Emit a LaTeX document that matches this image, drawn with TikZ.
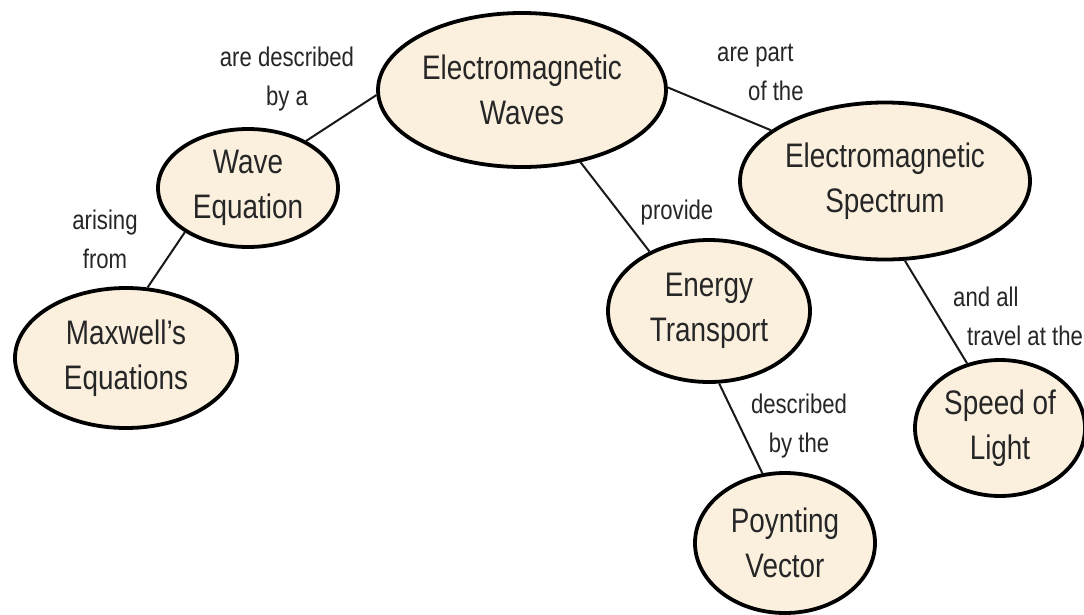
\documentclass[tikz,border=0pt]{standalone}
\usepackage{fontspec}
\setmainfont{Liberation Sans}[FakeStretch=0.82]
\usetikzlibrary{shapes.geometric}
\definecolor{conceptfill}{RGB}{251,240,222}
\colorlet{inkgray}{black!85}

\begin{document}
\begin{tikzpicture}[x=1pt,y=-1pt,
    concept/.style={ellipse,draw=black,line width=3.8pt,fill=conceptfill,inner sep=0pt,
      align=center,text=inkgray,font=\fontsize{34}{45}\selectfont},
    linklabel/.style={align=center,text=inkgray,inner sep=0pt,font=\fontsize{27}{39}\selectfont},
    link/.style={line width=2pt,black!90}]
  \useasboundingbox[fill=white] (0,0) rectangle (1084,614);

  \node[concept,minimum width=288,minimum height=154] (emw) at (522,90) {Electromagnetic\\Waves};
  \node[concept,minimum width=180,minimum height=118] (waveeq) at (248,188) {Wave\\Equation};
  \node[concept,minimum width=222,minimum height=140] (maxwell) at (126,358) {Maxwell's\\Equations};
  \node[concept,minimum width=290,minimum height=157] (spectrum) at (885,181) {Electromagnetic\\Spectrum};
  \node[concept,minimum width=202,minimum height=142] (energy) at (709,311) {Energy\\Transport};
  \node[concept,minimum width=170,minimum height=136] (speed) at (1000,428) {Speed of\\Light};
  \node[concept,minimum width=180,minimum height=140] (poynting) at (785,543) {Poynting\\Vector};

  \draw[link] (emw.182) -- (waveeq.39);
  \draw[link] (waveeq.215) -- (maxwell.73);
  \draw[link] (emw.1) -- (spectrum.156);
  \draw[link] (emw.309) -- (energy.135);
  \draw[link] (spectrum.284) -- (speed.117);
  \draw[link] (energy.278) -- (poynting.108);

  \node[linklabel] (describedby) at (287,79) {are described\\by a};
  \node[linklabel,align=left,anchor=west] (partof) at (717,72) {are part\\\hspace*{31pt}of the};
  \node[linklabel] (arising) at (105,239) {arising\\from};
  \node[linklabel] (provide) at (677,213) {provide};
  \node[linklabel,align=left,anchor=west] (travel) at (953,316) {and all\\\hspace*{14pt}travel at the};
  \node[linklabel] (describedthe) at (799,426) {described\\by the};
\end{tikzpicture}
\end{document}
